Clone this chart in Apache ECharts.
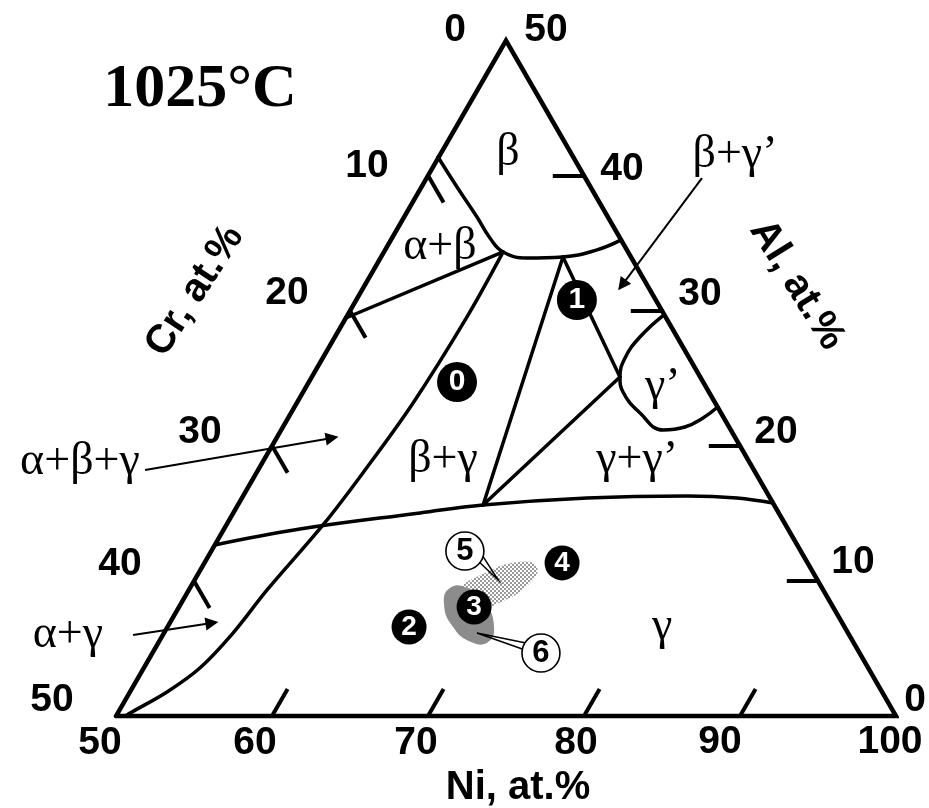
<!DOCTYPE html>
<html><head><meta charset="utf-8">
<script src="https://cdn.jsdelivr.net/npm/echarts@6/dist/echarts.min.js"></script>
<style>html,body{margin:0;padding:0;background:#fff}#c{width:929px;height:808px}</style>
</head><body><div id="c"></div>
<script>
// ===== DATA: compositions in at.% as [Ni, Al]  (Cr = 100 - Ni - Al) =====
const niTicks = [60, 70, 80, 90];
const alTicks = [10, 20, 30, 40];
const crTicks = [10, 20, 30, 40];
const niTickLabels = [50, 60, 70, 80, 90, 100];
const alTickLabels = [0, 10, 20, 30, 40, 50];
const crTickLabels = [0, 10, 20, 30, 40, 50];
const tickLength = 2; // at.%

const triangleFrame = [[50, 0], [100, 0], [50, 50], [50, 0]];
const betaBoundary = [[49.95, 41.38], [52.28, 39.16], [54.67, 36.94], [56.28, 35.38], [57.64, 34.35],
  [59.40, 33.90], [61.66, 33.98], [63.58, 34.50], [64.76, 35.24]];
const alphaBetaTie = [[50, 29.46], [57.64, 34.35]];
const alphaBoundary = [[57.64, 34.35], [57.73, 29.54], [57.46, 23.17], [56.83, 17.99], [56.20, 14.14],
  [55.02, 9.33], [54.43, 6.14], [53.60, 3.55], [52.38, 1.78], [50.79, 0.22], [50.6, 0]];
const gammaBoundary = [[50, 12.66], [54.87, 13.84], [61.98, 15.03], [65.72, 15.62], [72.12, 16.14],
  [78.46, 16.29], [81.74, 16.14], [84.24, 15.76]];
const tieBetaGammaPrime = [[61.66, 33.98], [69.76, 25.09]];
const tieBetaGamma = [[61.66, 33.98], [65.72, 15.62]];
const tieGammaGammaPrime = [[65.72, 15.62], [69.76, 25.09]];
const gammaPrimeBoundary = [[70.29, 29.71], [69.56, 28.05], [69.38, 26.50], [69.76, 25.09], [70.51, 23.98],
  [72.38, 22.43], [74.48, 21.17], [75.77, 21.39], [76.60, 22.06], [77.13, 22.87]];

const alloyLabels = ['0', '1', '2', '3', '4'];
const alloyComp = [[59.50, 24.72], [64.15, 30.79], [65.49, 6.59], [68.92, 8.07], [72.93, 11.33]];
const zoneLabels = ['5', '6'];
const zoneComp = [[66.26, 12.21], [74.91, 4.66]];
const zone5Outline = [[71.47, 11.03], [71.59, 9.77], [70.37, 8.36], [68.60, 7.55], [67.26, 7.92],
  [67.14, 9.18], [68.36, 10.58], [70.13, 11.40]];
const zone6Outline = [[71.11, 5.48], [70.90, 6.66], [69.47, 8.36], [67.76, 9.47], [66.67, 9.47],
  [66.88, 8.29], [68.31, 6.59], [70.02, 5.48]];
const callout5 = [[67.37, 11.55], [69.46, 10.07], [67.50, 11.92]];
const callout6 = [[73.58, 5.40], [70.07, 6.14], [73.78, 4.89]];

const phaseNames = ['β', 'α+β', 'β+γ’', 'γ’', 'β+γ', 'γ+γ’', 'γ', 'α+β+γ', 'α+γ'];
const phaseComp = [[54.29, 41.67], [53.41, 34.71], [68.92, 41.52], [72.88, 24.35], [61.49, 18.95],
  [73.93, 18.95], [81.71, 6.59], [38.29, 18.80], [43.92, 6.0]];
const arrowStart = [[67.65, 39.82], [42.76, 18.21], [48.09, 6.0]];
const arrowEnd = [[66.49, 31.90], [53.56, 20.58], [52.71, 6.88]];

// ===== LAYOUT (pixel offsets of tick labels, sizes) =====
const niLabelOffset = [[-16, 27], [-17, 27], [-12, 27], [-8, 27], [-20, 26], [-6, 26]];
const alLabelOffset = [[19, -16], [35, -19], [36, -14], [38, -16], [38, -6], [40, -10]];
const crLabelOffset = [[-51, -10], [-61, -9], [-63, -17], [-72, -14], [-74, -17], [-64, -16]];
const alloySize = [40, 40, 35, 35, 35];
const alloyFont = [30, 30, 28, 28, 28];

const SQ3 = Math.sqrt(3);
const toXY = p => [p[0] + p[1] / 2, p[1] * SQ3 / 2];

const pc = document.createElement('canvas'); pc.width = 4; pc.height = 4;
const g = pc.getContext('2d');
g.fillStyle = '#ffffff'; g.fillRect(0, 0, 4, 4);
g.fillStyle = '#9a9a9a'; g.fillRect(0, 0, 2, 2); g.fillRect(2, 2, 2, 2);
const dotPattern = {image: pc, repeat: 'repeat'};

function curve(pts, smooth, width, z, join) {
  return {type: 'line', data: pts.map(toXY), smooth: smooth, symbol: 'none', clip: false, silent: true,
    z: z || 3, animation: false, lineStyle: {color: '#000', width: width, join: join || 'round', cap: 'round'}};
}
function blob(pts, fill, z) {
  return {type: 'custom', coordinateSystem: 'cartesian2d', data: [[75, 10]], silent: true, z: z, clip: false,
    animation: false,
    renderItem: (params, api) => ({type: 'polygon',
      shape: {points: pts.map(p => api.coord(toXY(p))), smooth: 0.5},
      style: {fill: fill, stroke: null}})};
}
function textSeries(anchors, texts, offsets, lbl, z) {
  return {type: 'scatter', clip: false, silent: true, z: z || 6, animation: false, symbolSize: 1,
    itemStyle: {color: 'rgba(0,0,0,0)', opacity: 1},
    data: anchors.map((p, i) => ({value: toXY(p),
      label: {formatter: String(texts[i]), offset: offsets ? offsets[i] : [0, 0]}})),
    label: Object.assign({show: true, position: 'inside', color: '#000', align: 'center',
      verticalAlign: 'middle', opacity: 1}, lbl)};
}

const tickLines = [];
niTicks.forEach(v => tickLines.push({coords: [toXY([v, 0]), toXY([v, tickLength])]}));
alTicks.forEach(v => tickLines.push({coords: [toXY([100 - v, v]), toXY([100 - v - tickLength, v])]}));
crTicks.forEach(v => tickLines.push({coords: [toXY([50, 50 - v]), toXY([50 + tickLength, 50 - v - tickLength])]}));

const arrows = arrowStart.map((s, i) => ({coords: [toXY(s), toXY(arrowEnd[i])]}));

const tickFont = {fontFamily: 'Liberation Sans', fontWeight: 'bold', fontSize: 39};
const series = [
  blob(zone5Outline, dotPattern, 1),
  blob(zone6Outline, '#8c8c8c', 2),
  curve(triangleFrame, false, 4.5, 4, 'miter'),
  curve(betaBoundary, 0.45, 3.5),
  curve(alphaBetaTie, false, 3.5),
  curve(alphaBoundary, 0.35, 3.5),
  curve(gammaBoundary, 0.4, 3.5),
  curve(tieBetaGammaPrime, false, 3.5),
  curve(tieBetaGamma, false, 3.5),
  curve(tieGammaGammaPrime, false, 3.5),
  curve(gammaPrimeBoundary, 0.45, 3.5),
  {type: 'lines', coordinateSystem: 'cartesian2d', data: tickLines, silent: true, z: 4, animation: false,
    lineStyle: {color: '#000', width: 4, opacity: 1}, symbol: 'none'},
  {type: 'lines', coordinateSystem: 'cartesian2d', data: arrows, silent: true, z: 4, animation: false,
    lineStyle: {color: '#000', width: 2, opacity: 1}, symbol: ['none', 'triangle'], symbolSize: 13},
  curve(callout5, false, 1.5, 4, 'miter'),
  curve(callout6, false, 1.5, 4, 'miter'),
  {type: 'scatter', clip: false, silent: true, z: 5, animation: false, symbol: 'circle',
    symbolSize: (val, params) => alloySize[params.dataIndex],
    itemStyle: {color: '#000', opacity: 1},
    data: alloyComp.map((p, i) => ({value: toXY(p),
      label: {formatter: alloyLabels[i], fontSize: alloyFont[i]}})),
    label: {show: true, position: 'inside', color: '#fff', fontFamily: 'Liberation Sans', fontWeight: 'bold'}},
  {type: 'scatter', clip: false, silent: true, z: 5, animation: false, symbol: 'circle', symbolSize: 38,
    itemStyle: {color: '#fff', borderColor: '#000', borderWidth: 1.6, opacity: 1},
    data: zoneComp.map((p, i) => ({value: toXY(p), label: {formatter: zoneLabels[i]}})),
    label: {show: true, position: 'inside', color: '#000', fontFamily: 'Liberation Sans', fontWeight: 'bold',
      fontSize: 31}},
  textSeries(niTickLabels.map(v => [v, 0]), niTickLabels, niLabelOffset, tickFont),
  textSeries(alTickLabels.map(v => [100 - v, v]), alTickLabels, alLabelOffset, tickFont),
  textSeries(crTickLabels.map(v => [50, 50 - v]), crTickLabels, crLabelOffset, tickFont),
  textSeries(phaseComp, phaseNames, null, {fontFamily: 'Liberation Serif', fontSize: 46})
];

const txt = (x, y, text, font, rot) => ({type: 'text', x: x, y: y, rotation: rot || 0, z: 10,
  style: {text: text, font: font, fill: '#000', align: 'center', verticalAlign: 'middle',
    textAlign: 'center', textVerticalAlign: 'middle'}});

const chart = echarts.init(document.getElementById('c'), null, {renderer: 'canvas'});
chart.setOption({
  animation: false,
  backgroundColor: '#fff',
  grid: {left: 116, right: 33, top: 40.5, bottom: 92},
  xAxis: {type: 'value', min: 50, max: 100, show: false},
  yAxis: {type: 'value', min: 0, max: 25 * SQ3, show: false},
  graphic: [
    txt(200, 90, '1025°C', 'bold 62px "Liberation Serif"'),
    txt(518, 788, 'Ni, at.%', 'bold 40px "Liberation Sans"'),
    txt(195, 291, 'Cr, at.%', 'bold 40px "Liberation Sans"', 57 * Math.PI / 180),
    txt(797, 285, 'Al, at.%', 'bold 40px "Liberation Sans"', -58 * Math.PI / 180)
  ],
  series: series
});
</script>
</body></html>
